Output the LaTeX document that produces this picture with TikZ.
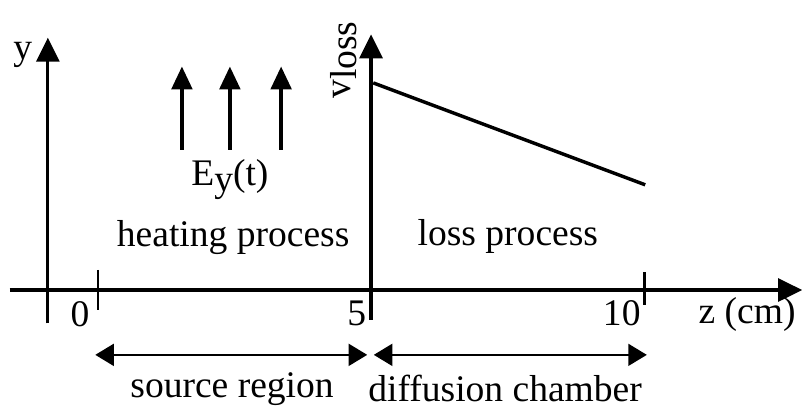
\documentclass[tikz,border=0pt]{standalone}
\usepackage{fontspec}
\setmainfont{Liberation Serif}
\usepackage{tikz}
\usetikzlibrary{arrows.meta, positioning}

\begin{document}
\begin{tikzpicture}[
        axis/.style = {line width=1.7pt, -{Triangle[length=0.44cm, width=0.42cm]}},
        field/.style = {line width=1.7pt, -{Triangle[length=0.42cm, width=0.38cm]}},
        span/.style = {line width=1.2pt, {Triangle[length=0.34cm, width=0.4cm]}-{Triangle[length=0.34cm, width=0.4cm]}},
        tick/.style = {line width=1.5pt},
        lbl/.style = {inner sep=0pt, font=\fontsize{19.6}{22}\selectfont}
    ]
        \useasboundingbox (-1.798,-2.367) rectangle (12.917,5.321);

        % === Coordinates ===
        \coordinate (zstart) at (-1.62,0);
        \coordinate (zend) at (12.92,0);
        \coordinate (ybot) at (-0.92,-0.61);
        \coordinate (ytop) at (-0.92,4.63);
        \coordinate (vbot) at (5.01,-0.55);
        \coordinate (vtop) at (5.01,4.69);
        \coordinate (lossA) at (5.05,3.80);
        \coordinate (lossB) at (10.04,1.93);

        % === Axes ===
        \draw [axis] (zstart) -- (zend);
        \draw [axis] (ybot) -- (ytop);
        \draw [axis] (vbot) -- (vtop);
        \draw [tick] (0,0.37) -- (0,-0.37);
        \draw [tick] (10.02,0.33) -- (10.02,-0.28);

        % === Loss curve ===
        \draw [line width=1.8pt] (lossA) -- (lossB);

        % === Field arrows ===
        \foreach \x in {1.54, 2.42, 3.36}
            \draw [field] (\x,2.57) -- (\x,4.10);

        % === Labels ===
        \node (ylabel) [lbl] at (-1.38,4.32) {y};
        \node (vlabel) [lbl, rotate=90] at (4.50,4.22) {v\raisebox{-0.35ex}{loss}};
        \node (Efield) [lbl] at (2.42,2.02) {E\raisebox{-0.35ex}{y}(t)};
        \node (heating) [lbl] at (2.48,0.97) {heating process};
        \node (loss) [lbl] at (7.52,0.99) {loss process};
        \node (tick0) [lbl] at (-0.33,-0.44) {0};
        \node (tick5) [lbl] at (4.75,-0.42) {5};
        \node (tick10) [lbl] at (9.61,-0.42) {10};
        \node (zlabel) [lbl] at (11.91,-0.44) {z (cm)};

        % === Regions ===
        \coordinate (srcL) at (-0.05,-1.19);
        \coordinate (srcR) at (4.94,-1.19);
        \coordinate (difL) at (5.06,-1.19);
        \coordinate (difR) at (10.07,-1.19);
        \draw [span] (srcL) -- (srcR);
        \draw [span] (difL) -- (difR);
        \node (source) [lbl] at (2.46,-1.82) {source region};
        \node (chamber) [lbl] at (7.47,-1.80) {diffusion chamber};

    \end{tikzpicture}
\end{document}
